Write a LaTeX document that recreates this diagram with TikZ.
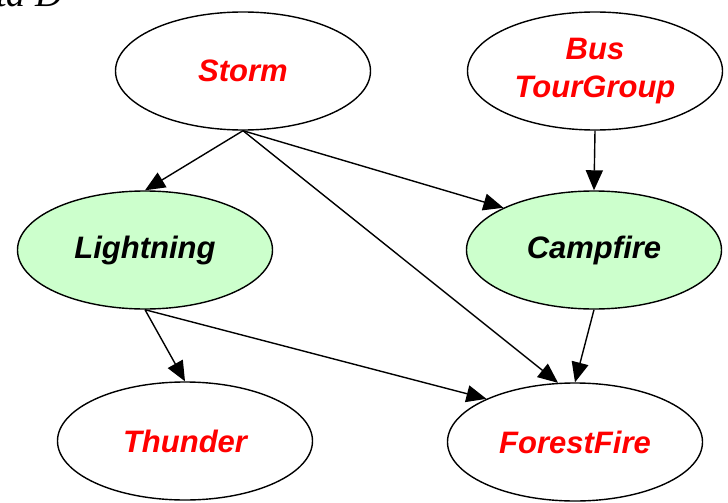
\documentclass[tikz,border=0pt]{standalone}
\usepackage{fontspec}
\setmainfont{Liberation Sans}
\newfontfamily\serifit{Liberation Serif}
\usetikzlibrary{shapes.geometric,arrows.meta}
\definecolor{nodegreen}{HTML}{CCFFCC}
\begin{document}
\begin{tikzpicture}[x=1pt,y=-1pt,
  var/.style={ellipse,draw=black,line width=1.4pt,minimum width=255pt,minimum height=118pt,
    inner sep=0pt,font=\fontsize{31}{38}\selectfont\bfseries\itshape,align=center},
  hidden/.style={var,text=red,fill=white},
  observed/.style={var,text=black,fill=nodegreen},
  edge/.style={line width=1.4pt,-{Triangle[length=20pt,width=17pt]}}]
\useasboundingbox (0,0) rectangle (728,503);
\clip (0,0) rectangle (728,503);
% heading, cut by the top edge
\node[anchor=base west,inner sep=0pt,font=\serifit\fontsize{38}{40}\selectfont\itshape] (title) at (-4,7) {ta D};
% variables
\node[hidden]   (storm)   at (243,71)  {Storm};
\node[hidden]   (bus)     at (595,71)  {Bus\\TourGroup};
\node[observed] (light)   at (145,250) {Lightning};
\node[observed] (camp)    at (594,250) {Campfire};
\node[hidden]   (thunder) at (185,441) {Thunder};
\node[hidden]   (fire)    at (575,442) {ForestFire};
% dependencies
\draw[edge] (storm.south) -- (light.north);
\draw[edge] (storm.south) -- (camp.155);
\draw[edge] (storm.south) -- (fire.106);
\draw[edge] (bus.south) -- (camp.north);
\draw[edge] (light.south) -- (thunder.north);
\draw[edge] (light.south) -- (fire.154);
\draw[edge] (camp.south) -- (fire.north);
\end{tikzpicture}
\end{document}
